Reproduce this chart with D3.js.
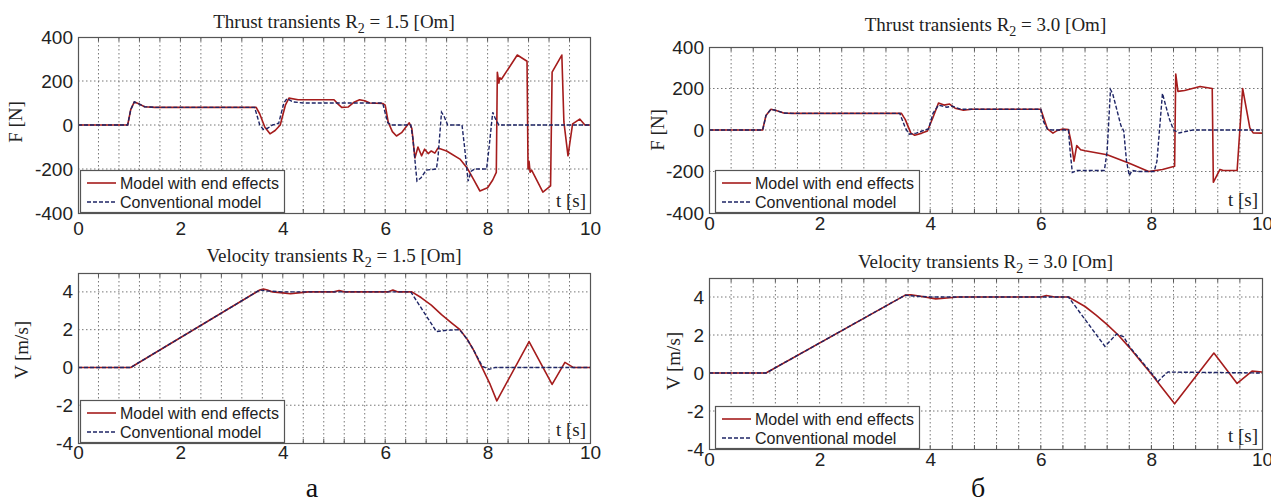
<!DOCTYPE html>
<html><head><meta charset="utf-8">
<script src="https://cdn.jsdelivr.net/npm/d3@7"></script>
<style>body{margin:0;background:#fff}svg{display:block}</style>
</head><body>
<svg id="c" width="1271" height="504"></svg>
<script>
// ---------- data ----------
const legendLabels = ["Model with end effects", "Conventional model"];
const xTicks = [0, 2, 4, 6, 8, 10];
const thrustTicks = [-400, -200, 0, 200, 400];
const velocityTicks = [-4, -2, 0, 2, 4];
const titlesA = ["Thrust transients R", "Velocity transients R"];
const resist = ["1.5", "3.0"];

// Panel a, thrust [t, F]
const thrustA_model = [[0,0],[0.97,0],[1.03,70],[1.1,105],[1.2,95],[1.3,83],[1.5,80],[3.48,80],[3.55,50],[3.65,-10],[3.75,-40],[3.85,-25],[3.95,0],[4.05,90],[4.12,122],[4.3,115],[5.0,115],[5.08,95],[5.15,80],[5.28,82],[5.4,105],[5.5,115],[5.6,110],[5.7,100],[5.95,98],[6.0,90],[6.06,12],[6.14,-30],[6.22,-50],[6.32,-35],[6.42,-5],[6.47,10],[6.52,-15],[6.58,-150],[6.64,-100],[6.71,-140],[6.77,-110],[6.84,-130],[6.9,-118],[6.97,-128],[7.03,-105],[7.2,-118],[7.46,-155],[7.6,-195],[7.72,-245],[7.85,-300],[8.0,-285],[8.1,-250],[8.17,-215],[8.19,240],[8.22,190],[8.24,215],[8.27,208],[8.58,318],[8.77,290],[8.79,-200],[8.81,-165],[8.83,-215],[8.86,-205],[9.08,-305],[9.23,-277],[9.26,240],[9.45,318],[9.49,14],[9.57,-140],[9.66,5],[9.8,27],[9.9,0],[10,0]];
const thrustA_conv = [[0,0],[0.97,0],[1.03,70],[1.1,105],[1.2,95],[1.3,83],[1.5,80],[3.45,80],[3.55,0],[3.62,-20],[3.7,-15],[3.8,0],[3.92,8],[4.02,100],[4.08,120],[4.2,105],[4.4,100],[5.95,100],[6.05,10],[6.12,0],[6.5,0],[6.54,-60],[6.62,-255],[6.7,-240],[6.8,-205],[7.0,-200],[7.03,-150],[7.1,58],[7.15,40],[7.22,0],[7.5,0],[7.55,-100],[7.62,-255],[7.68,-210],[7.75,-200],[7.98,-200],[8.03,-100],[8.1,58],[8.15,30],[8.22,0],[10,0]];
// Panel a, velocity [t, V]
const velocityA_model = [[0,0],[1.03,0],[3.55,4.1],[3.62,4.15],[3.7,4.1],[3.8,4.0],[4.0,3.95],[4.15,3.9],[4.3,3.95],[4.5,4.0],[5.0,4.0],[5.1,4.07],[5.2,4.0],[6.05,4.0],[6.15,4.1],[6.25,4.0],[6.52,4.0],[6.7,3.7],[6.9,3.3],[7.1,2.8],[7.3,2.35],[7.46,2.0],[7.6,1.5],[7.72,0.95],[7.9,-0.05],[8.05,-0.9],[8.18,-1.77],[8.81,1.37],[9.26,-0.9],[9.51,0.27],[9.67,0],[10,0]];
const velocityA_conv = [[0,0],[1.03,0],[3.55,4.1],[3.7,4.05],[4.0,4.0],[6.5,4.0],[7.0,1.9],[7.2,1.97],[7.45,2.0],[7.6,1.5],[7.72,0.95],[7.9,0.05],[8.03,-0.1],[8.15,0],[10,0]];
// Panel б, thrust [t, F]
const thrustB_model = [[0,0],[0.97,0],[1.03,70],[1.12,100],[1.2,95],[1.35,82],[1.5,80],[3.48,80],[3.55,50],[3.65,-15],[3.72,-25],[3.85,-15],[3.95,-5],[4.05,60],[4.15,130],[4.25,120],[4.35,125],[4.45,105],[4.6,95],[4.75,100],[6.0,100],[6.05,60],[6.12,5],[6.22,-15],[6.3,-2],[6.4,5],[6.5,2],[6.55,-60],[6.6,-150],[6.65,-75],[6.72,-95],[6.8,-100],[7.2,-119],[7.6,-160],[7.95,-200],[8.2,-190],[8.42,-175],[8.44,270],[8.48,186],[8.6,190],[8.88,210],[9.1,200],[9.12,-252],[9.24,-190],[9.3,-195],[9.55,-195],[9.65,200],[9.78,10],[9.84,-14],[10,-15]];
const thrustB_conv = [[0,0],[0.97,0],[1.03,70],[1.12,100],[1.2,95],[1.35,82],[1.5,80],[3.45,80],[3.55,10],[3.62,-20],[3.75,-15],[3.9,0],[3.97,5],[4.05,80],[4.15,120],[4.3,110],[4.4,115],[4.55,100],[6.0,100],[6.05,40],[6.12,5],[6.2,0],[6.5,0],[6.53,-100],[6.57,-205],[6.65,-195],[7.15,-195],[7.2,-100],[7.26,195],[7.3,175],[7.45,20],[7.5,-5],[7.55,-150],[7.6,-220],[7.65,-195],[7.75,-200],[8.05,-200],[8.1,-150],[8.2,176],[8.32,57],[8.4,0],[8.5,-14],[8.75,0],[10,0]];
// Panel б, velocity [t, V]
const velocityB_model = [[0,0],[1.03,0],[3.55,4.1],[3.65,4.12],[3.8,4.05],[4.1,3.9],[4.3,3.95],[4.5,4.0],[6.0,4.0],[6.1,4.08],[6.25,4.0],[6.5,4.0],[6.8,3.5],[7.0,3.05],[7.2,2.55],[7.4,2.0],[7.6,1.35],[7.8,0.65],[8.0,-0.05],[8.2,-0.8],[8.42,-1.62],[9.13,1.05],[9.55,-0.55],[9.82,0.1],[10,0.05]];
const velocityB_conv = [[0,0],[1.03,0],[3.55,4.1],[3.7,4.05],[4.0,4.0],[6.5,4.0],[7.16,1.4],[7.37,2.05],[7.5,1.9],[7.6,1.4],[7.8,0.7],[8.0,0.0],[8.12,-0.45],[8.2,-0.2],[8.3,0.05],[10,0]];

// ---------- drawing ----------
const svg = d3.select('#c');
const SANS = "'Liberation Sans', Arial, sans-serif";
const SERIF = "'Liberation Serif', 'Times New Roman', serif";
const RED = '#a51c1c', BLUE = '#1e2566';
const gridT = d3.range(0.4, 10, 0.4);

function panel(p, idx) {
  const x = d3.scaleLinear().domain([0, 10]).range([p.x0, p.x1]);
  const y = d3.scaleLinear().domain(p.yDomain).range([p.y1, p.y0]);
  const g = svg.append('g');
  g.append('rect').attr('x', p.x0).attr('y', p.y0).attr('width', p.x1 - p.x0).attr('height', p.y1 - p.y0).attr('fill', '#fff');
  // grid
  g.selectAll('line.vg').data(gridT).join('line')
    .attr('x1', d => x(d)).attr('x2', d => x(d)).attr('y1', p.y0).attr('y2', p.y1)
    .attr('stroke', '#777').attr('stroke-width', 1).attr('stroke-dasharray', '1.5,2.5');
  const hg = p.ticks.filter(d => d > p.yDomain[0] && d < p.yDomain[1]);
  g.selectAll('line.hg').data(hg).join('line')
    .attr('x1', p.x0).attr('x2', p.x1).attr('y1', d => y(d)).attr('y2', d => y(d))
    .attr('stroke', '#777').attr('stroke-width', 1).attr('stroke-dasharray', '1.5,2.5');
  // small inner ticks
  g.selectAll('line.tb').data(gridT).join('line')
    .attr('x1', d => x(d)).attr('x2', d => x(d)).attr('y1', p.y1).attr('y2', p.y1 - 4).attr('stroke', '#555');
  g.selectAll('line.tt').data(gridT).join('line')
    .attr('x1', d => x(d)).attr('x2', d => x(d)).attr('y1', p.y0).attr('y2', p.y0 + 4).attr('stroke', '#555');
  // clip
  const cid = 'clip' + idx;
  svg.append('clipPath').attr('id', cid).append('rect')
    .attr('x', p.x0).attr('y', p.y0).attr('width', p.x1 - p.x0).attr('height', p.y1 - p.y0);
  const line = d3.line().x(d => x(d[0])).y(d => y(d[1]));
  const lg = g.append('g').attr('clip-path', `url(#${cid})`);
  lg.append('path').datum(p.model).attr('d', line).attr('fill', 'none')
    .attr('stroke', RED).attr('stroke-width', 1.6).attr('stroke-linejoin', 'round');
  lg.append('path').datum(p.conv).attr('d', line).attr('fill', 'none')
    .attr('stroke', BLUE).attr('stroke-width', 1.4).attr('stroke-dasharray', '4,2');
  // frame
  g.append('rect').attr('x', p.x0 + 0.5).attr('y', p.y0 + 0.5).attr('width', p.x1 - p.x0).attr('height', p.y1 - p.y0)
    .attr('fill', 'none').attr('stroke', '#555').attr('stroke-width', 1.2);
  // axes
  const fmt = d => String(d);
  const xa = g.append('g').attr('transform', `translate(0,${p.y1})`)
    .call(d3.axisBottom(x).tickValues(xTicks).tickSize(0).tickPadding(p.xPad).tickFormat(fmt));
  xa.select('.domain').remove();
  xa.selectAll('text').attr('font-family', SANS).attr('font-size', 19).attr('fill', '#222');
  const ya = g.append('g').attr('transform', `translate(${p.x0},0)`)
    .call(d3.axisLeft(y).tickValues(p.ticks).tickSize(0).tickPadding(5).tickFormat(fmt));
  ya.select('.domain').remove();
  ya.selectAll('text').attr('font-family', SANS).attr('font-size', 19).attr('fill', '#222');
  // title
  const t = g.append('text').attr('x', (p.x0 + p.x1) / 2).attr('y', p.titleY).attr('text-anchor', 'middle')
    .attr('font-family', SERIF).attr('font-size', 19).attr('fill', '#222');
  t.append('tspan').text(p.title);
  t.append('tspan').attr('font-size', 14).attr('dy', 5).text('2');
  t.append('tspan').attr('dy', -5).text(' = ' + p.r + ' [Om]');
  // y label
  g.append('text').attr('transform', `translate(${p.ylx},${p.yly}) rotate(-90)`).attr('text-anchor', 'middle')
    .attr('dy', '0.35em').attr('font-family', SERIF).attr('font-size', 19).attr('fill', '#222').text(p.ylabel);
  // t [s]
  g.append('text').attr('x', p.x1 - 4).attr('y', p.tsY).attr('text-anchor', 'end')
    .attr('font-family', SERIF).attr('font-size', 19).attr('fill', '#222').text('t [s]');
  // legend
  const lx = p.x0 + p.legDx, lw = 204, lh = 43;
  const leg = g.append('g');
  leg.append('rect').attr('x', lx + 0.5).attr('y', p.y1 - lh + 0.5).attr('width', lw).attr('height', lh - 1)
    .attr('fill', '#fff').attr('stroke', '#555').attr('stroke-width', 1.2);
  const rows = [{c: RED, dash: null, w: 1.6}, {c: BLUE, dash: '4,2', w: 1.4}];
  rows.forEach((r, i) => {
    const ly = p.y1 - 30 + i * 19;
    leg.append('line').attr('x1', lx + 7).attr('x2', lx + 36).attr('y1', ly).attr('y2', ly)
      .attr('stroke', r.c).attr('stroke-width', r.w).attr('stroke-dasharray', r.dash);
    leg.append('text').attr('x', lx + 40).attr('y', ly + 5.5).attr('font-family', SANS).attr('font-size', 16)
      .attr('fill', '#222').text(legendLabels[i]);
  });
}

const panels = [
  {x0: 78, x1: 590, y0: 37, y1: 213, yDomain: [-400, 400], ticks: thrustTicks, model: thrustA_model, conv: thrustA_conv,
   title: titlesA[0], r: resist[0], titleY: 28, ylabel: 'F [N]', ylx: 15, yly: 122, tsY: 207, xPad: 9, legDx: 2},
  {x0: 78, x1: 590, y0: 273, y1: 443, yDomain: [-4, 5], ticks: velocityTicks, model: velocityA_model, conv: velocityA_conv,
   title: titlesA[1], r: resist[0], titleY: 262, ylabel: 'V [m/s]', ylx: 21, yly: 350, tsY: 436, xPad: 2, legDx: 2},
  {x0: 709, x1: 1262, y0: 47, y1: 213, yDomain: [-400, 400], ticks: thrustTicks, model: thrustB_model, conv: thrustB_conv,
   title: titlesA[0], r: resist[1], titleY: 31, ylabel: 'F [N]', ylx: 657, yly: 130, tsY: 206, xPad: 3, legDx: 6},
  {x0: 709, x1: 1262, y0: 278, y1: 449, yDomain: [-4, 5], ticks: velocityTicks, model: velocityB_model, conv: velocityB_conv,
   title: titlesA[1], r: resist[1], titleY: 268, ylabel: 'V [m/s]', ylx: 673, yly: 361, tsY: 442, xPad: 4, legDx: 6}
];
panels.forEach(panel);

svg.append('text').attr('x', 312).attr('y', 497).attr('text-anchor', 'middle')
  .attr('font-family', SERIF).attr('font-size', 28).attr('fill', '#111').text('a');
svg.append('text').attr('x', 978).attr('y', 497).attr('text-anchor', 'middle')
  .attr('font-family', SERIF).attr('font-size', 28).attr('fill', '#111').text('б');
</script>
</body></html>
